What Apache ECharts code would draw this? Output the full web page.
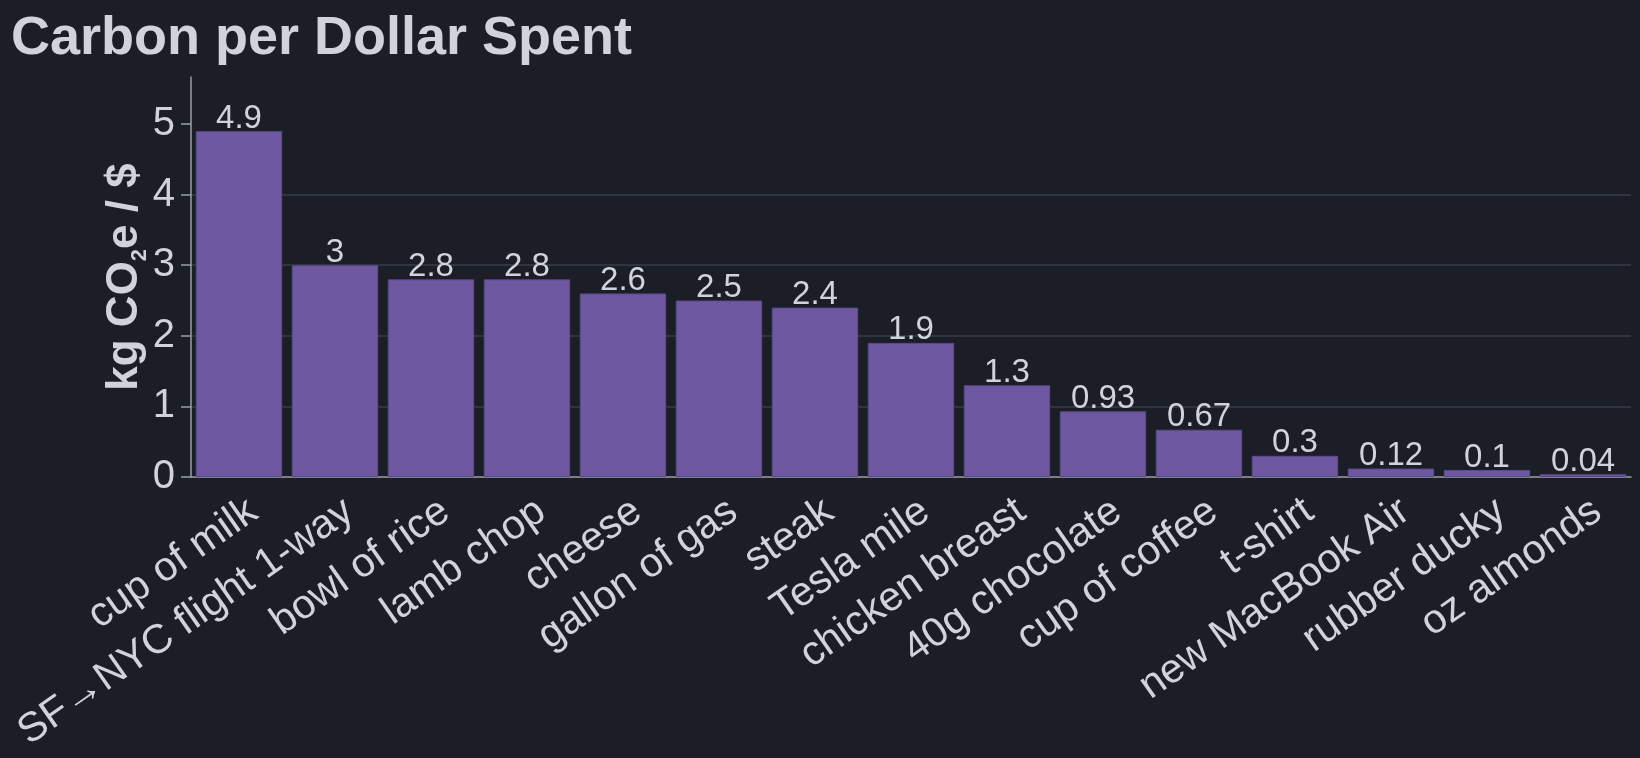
<!DOCTYPE html>
<html>
<head>
<meta charset="utf-8">
<script src="https://cdn.jsdelivr.net/npm/echarts@6/dist/echarts.min.js"></script>
<style>
  html, body { margin: 0; padding: 0; background: #1b1e26; }
  #main { width: 1640px; height: 758px; }
</style>
</head>
<body>
<div id="main"></div>
<script>
var items = ['cup of milk', 'SF\u2192NYC flight 1-way', 'bowl of rice', 'lamb chop', 'cheese',
    'gallon of gas', 'steak', 'Tesla mile', 'chicken breast', '40g chocolate',
    'cup of coffee', 't-shirt', 'new MacBook Air', 'rubber ducky', 'oz almonds'];
var kgPerDollar = [4.9, 3, 2.8, 2.8, 2.6, 2.5, 2.4, 1.9, 1.3, 0.93, 0.67, 0.3, 0.12, 0.1, 0.04];
var yTicks = [0, 1, 2, 3, 4, 5];

var font = 'Liberation Sans';
var textColor = '#d0d3dc';

var myChart = echarts.init(document.getElementById('main'));

var option = {
    backgroundColor: '#1b1e26',
    animation: false,
    title: {
        text: 'Carbon per Dollar Spent',
        left: 6,
        top: 7,
        textStyle: {
            fontFamily: font,
            fontWeight: 'bold',
            fontSize: 54,
            color: textColor
        }
    },
    grid: {
        left: 191,
        right: 9,
        top: 77,
        bottom: 281,
        containLabel: false,
        outerBoundsMode: 'none'
    },
    xAxis: {
        type: 'category',
        data: items,
        axisLine: { lineStyle: { color: '#9a9ea8', width: 1.5 } },
        axisTick: { alignWithLabel: true, length: 10, lineStyle: { color: '#9a9ea8', width: 1.5 } },
        axisLabel: {
            rotate: 35,
            interval: 0,
            margin: 10,
            verticalAlign: 'top',
            lineHeight: 50,
            fontFamily: font,
            fontSize: 41,
            color: textColor
        }
    },
    yAxis: {
        type: 'value',
        min: 0,
        max: 5.667,
        interval: 1,
        name: '{a|kg CO}{s|2}{a|e / $}',
        nameLocation: 'middle',
        nameRotate: 90,
        nameGap: 40,
        nameMoveOverlap: false,
        nameTextStyle: {
            color: textColor,
            rich: {
                a: { fontFamily: font, fontWeight: 'bold', fontSize: 44, lineHeight: 52, color: textColor },
                s: { fontFamily: font, fontWeight: 'bold', fontSize: 22, lineHeight: 22, verticalAlign: 'bottom', color: textColor }
            }
        },
        axisLine: { show: true, lineStyle: { color: '#9a9ea8', width: 1.5 } },
        axisTick: { show: true, length: 10, customValues: yTicks, lineStyle: { color: '#9a9ea8', width: 1.5 } },
        axisLabel: {
            customValues: yTicks,
            margin: 16,
            fontFamily: font,
            fontSize: 40,
            color: textColor
        },
        splitLine: {
            showMinLine: false,
            showMaxLine: false,
            lineStyle: { color: '#383c47', width: 1.5 }
        }
    },
    series: [{
        type: 'bar',
        data: kgPerDollar,
        barCategoryGap: '10%',
        itemStyle: {
            color: '#6f58a2',
            borderColor: '#5c4a8a',
            borderWidth: 1
        },
        label: {
            show: true,
            position: 'top',
            distance: -4,
            fontFamily: font,
            fontSize: 33,
            color: textColor
        }
    }]
};

myChart.setOption(option);
</script>
</body>
</html>
